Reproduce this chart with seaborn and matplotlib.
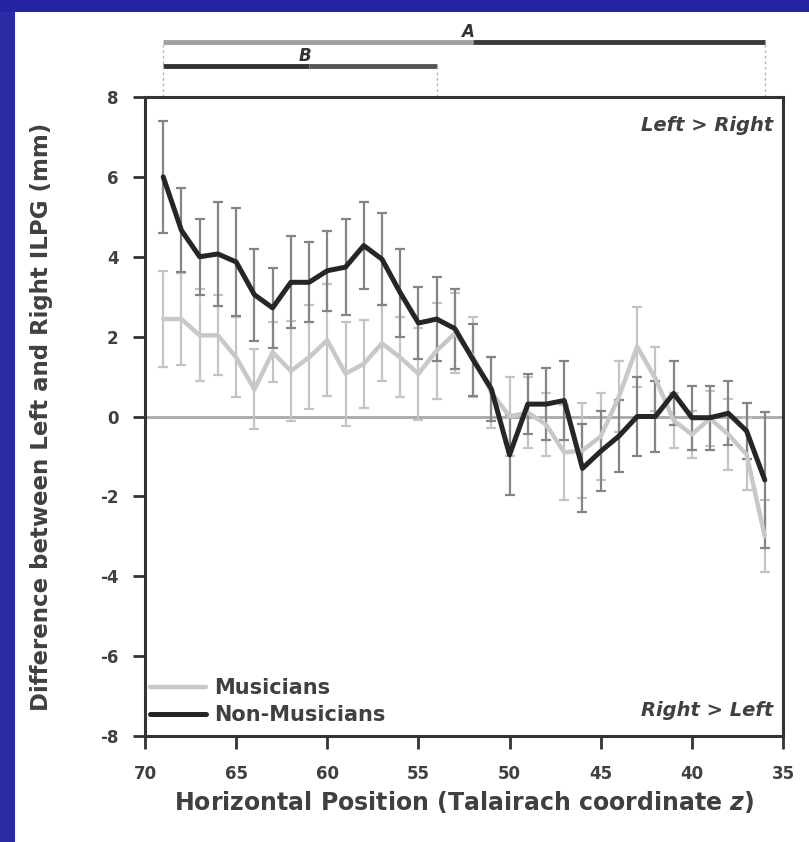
import numpy as np
import pandas as pd
import matplotlib
matplotlib.use("Agg")
import matplotlib.pyplot as plt
from matplotlib.patches import Rectangle
from matplotlib.lines import Line2D
import matplotlib.transforms as mtransforms
import seaborn as sns

# ---- data ----
positions = list(range(69, 35, -1))  # 69 .. 36
non_musicians = [6.0, 4.66, 4.0, 4.07, 3.87, 3.05, 2.72, 3.36, 3.36, 3.65, 3.74, 4.28,
                 3.94, 3.1, 2.34, 2.44, 2.2, 1.42, 0.69, -0.96, 0.31, 0.31, 0.4, -1.3,
                 -0.87, -0.49, 0.0, 0.0, 0.58, -0.03, -0.03, 0.08, -0.36, -1.59]
non_musicians_err = [1.4, 1.05, 0.95, 1.3, 1.35, 1.15, 1.0, 1.15, 1.0, 1.0, 1.2, 1.1,
                     1.15, 1.1, 0.9, 1.05, 1.0, 0.9, 0.8, 1.0, 0.75, 0.9, 1.0, 1.1,
                     1.0, 0.9, 1.0, 0.9, 0.8, 0.8, 0.8, 0.8, 0.7, 1.7]
musicians = [2.44, 2.44, 2.03, 2.03, 1.48, 0.68, 1.61, 1.14, 1.48, 1.91, 1.07, 1.32,
             1.83, 1.48, 1.07, 1.65, 2.08, 1.5, 0.6, 0.0, 0.1, -0.2, -0.9, -0.85,
             -0.5, 0.5, 1.75, 0.95, -0.1, -0.45, -0.05, -0.45, -0.95, -3.0]
musicians_err = [1.2, 1.15, 1.15, 1.0, 1.0, 1.0, 0.75, 1.25, 1.3, 1.4, 1.3, 1.1,
                 0.95, 1.0, 1.15, 1.2, 1.0, 1.0, 0.9, 1.0, 0.9, 0.8, 1.2, 1.2,
                 1.1, 0.9, 1.0, 0.8, 0.7, 0.6, 0.7, 0.9, 0.9, 0.9]
x_ticks = [70, 65, 60, 55, 50, 45, 40, 35]
y_ticks = [8, 6, 4, 2, 0, -2, -4, -6, -8]
bracket_A = (69, 36)
bracket_B = (69, 54)

df = pd.DataFrame({
    "z": positions * 2,
    "diff": musicians + non_musicians,
    "group": ["Musicians"] * len(positions) + ["Non-Musicians"] * len(positions),
})

sns.set_theme(style="ticks")
plt.rcParams["font.family"] = ["DejaVu Sans"]
plt.rcParams["axes.unicode_minus"] = False

TXT = "#404040"
fig = plt.figure(figsize=(8.09, 8.42), dpi=100)
fig.patch.set_facecolor("white")
# blue slide border
fig.add_artist(Rectangle((0, 0), 15 / 809, 1, transform=fig.transFigure,
                         facecolor="#2b2ba6", edgecolor="none", zorder=0))
fig.add_artist(Rectangle((0, 1 - 12 / 842), 1, 12 / 842, transform=fig.transFigure,
                         facecolor="#2424a0", edgecolor="none", zorder=0))

ax = fig.add_axes([145 / 809, 1 - 736 / 842, (783 - 145) / 809, (736 - 97) / 842])

ax.axhline(0, color="#a8a8a8", lw=2, zorder=1)

# error bars
ax.errorbar(positions, musicians, yerr=musicians_err, fmt="none", ecolor="#c4c4c4",
            elinewidth=1.6, capsize=3.5, capthick=1.6, zorder=2)
ax.errorbar(positions, non_musicians, yerr=non_musicians_err, fmt="none", ecolor="#858585",
            elinewidth=1.6, capsize=3.5, capthick=1.6, zorder=2)

sns.lineplot(data=df, x="z", y="diff", hue="group",
             palette={"Musicians": "#c8c8c8", "Non-Musicians": "#262626"},
             ax=ax, legend=False, sort=False, estimator=None, zorder=3)
for ln, w in zip(ax.lines[-2:], [3.2, 3.6]):
    ln.set_linewidth(w)

ax.set_xlim(70, 35)
ax.set_ylim(-8, 8)
ax.set_xticks(x_ticks)
ax.set_yticks(y_ticks)
ax.set_xticklabels([str(v) for v in x_ticks])
ax.set_yticklabels([str(v) for v in y_ticks])
ax.tick_params(axis="both", direction="out", length=9, width=2, colors="#333333",
               labelcolor=TXT)
ax.tick_params(axis="x", labelsize=12, pad=12)
ax.tick_params(axis="y", labelsize=12, pad=10)
for lab in ax.get_xticklabels() + ax.get_yticklabels():
    lab.set_fontweight("bold")
for s in ax.spines.values():
    s.set_visible(True)
    s.set_color("#333333")
    s.set_linewidth(2.2)

ax.set_xlabel("Horizontal Position (Talairach coordinate $\\mathbfit{z}$)", fontsize=17,
              fontweight="bold", color=TXT, labelpad=4)
ax.set_ylabel("Difference between Left and Right ILPG (mm)", fontsize=16.5,
              fontweight="bold", color=TXT, labelpad=34)

ax.text(0.985, 0.955, "Left > Right", transform=ax.transAxes, ha="right", va="center",
        fontsize=14, fontstyle="italic", fontweight="bold", color=TXT)
ax.text(0.985, 0.04, "Right > Left", transform=ax.transAxes, ha="right", va="center",
        fontsize=14, fontstyle="italic", fontweight="bold", color=TXT)

handles = [Line2D([], [], color="#c8c8c8", lw=3.2), Line2D([], [], color="#262626", lw=3.6)]
leg = ax.legend(handles, ["Musicians", "Non-Musicians"], loc="lower left",
                bbox_to_anchor=(-0.022, -0.012), frameon=False, handlelength=2.7,
                handletextpad=0.4, labelspacing=0.32, prop={"size": 15, "weight": "bold"})
for t in leg.get_texts():
    t.set_color(TXT)

# significance brackets above the plot
trans = mtransforms.blended_transform_factory(ax.transData, ax.transAxes)
yA, yB = 1.086, 1.048
ax.plot([bracket_A[0], 52], [yA, yA], transform=trans, color="#a0a0a0", lw=3.5,
        clip_on=False, solid_capstyle="butt")
ax.plot([52, bracket_A[1]], [yA, yA], transform=trans, color="#3a3a3a", lw=3.5,
        clip_on=False, solid_capstyle="butt")
ax.plot([bracket_B[0], 61], [yB, yB], transform=trans, color="#333333", lw=3.5,
        clip_on=False, solid_capstyle="butt")
ax.plot([61, bracket_B[1]], [yB, yB], transform=trans, color="#555555", lw=3.5,
        clip_on=False, solid_capstyle="butt")
for xv, ytop in [(bracket_A[0], yA), (bracket_A[1], yA), (bracket_B[1], yB)]:
    ax.plot([xv, xv], [1.0, ytop], transform=trans, color="#b8b8b8", lw=1,
            ls=(0, (2, 2)), clip_on=False)
ax.text(52.3, yA + 0.002, "A", transform=trans, ha="center", va="bottom", fontsize=12,
        fontstyle="italic", fontweight="bold", color="#333333")
ax.text(61.2, yB + 0.002, "B", transform=trans, ha="center", va="bottom", fontsize=12,
        fontstyle="italic", fontweight="bold", color="#333333")

fig.savefig("out.png", dpi=100, facecolor="white")
